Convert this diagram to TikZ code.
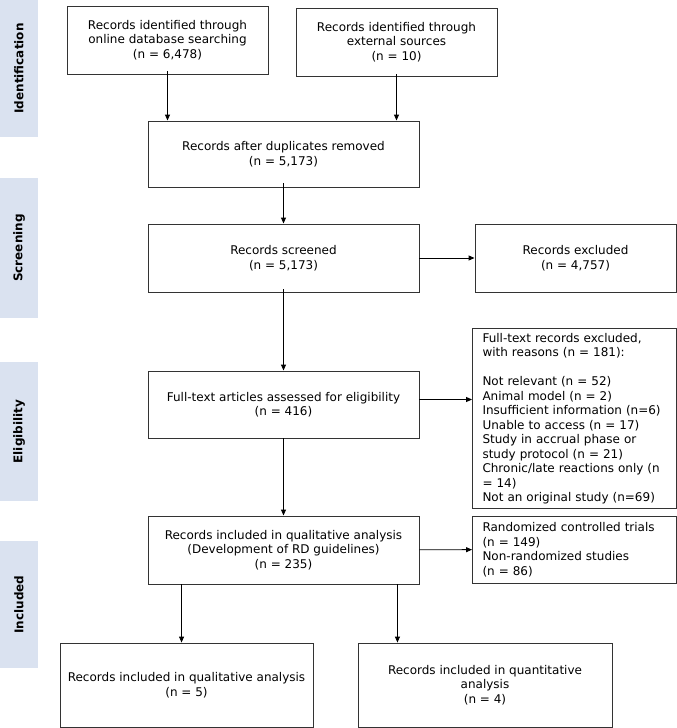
\documentclass[tikz,border=0pt]{standalone}
\usepackage{fontspec}
\setmainfont{DejaVu Sans}
\usepackage{tikz}
\usetikzlibrary{arrows.meta}
\definecolor{bandblue}{HTML}{DAE2F0}

\begin{document}
\begin{tikzpicture}[x=1pt, y=-1pt, thick, line width=0.9pt,
    >={Triangle[length=6pt,width=5pt]},
    main/.style = {draw=black!80, align=center, font=\fontsize{12}{14.5}\selectfont, inner sep=0pt},
    list/.style = {main, align=left, text width=184pt, inner xsep=10pt, inner ysep=4pt},
    band/.style = {fill=bandblue, minimum width=38pt, inner sep=0pt},
    bandtext/.style = {rotate=90, font=\fontsize{12}{14}\selectfont\bfseries}]
    \useasboundingbox (0,0) rectangle (677,728);

    % side bands
    \node[band, minimum height=137pt] (b1) at (19,68.5) {};
    \node[bandtext] at (b1) {Identification};
    \node[band, minimum height=140pt] (b2) at (19,248) {};
    \node[bandtext] at (b2) {Screening};
    \node[band, minimum height=139pt] (b3) at (19,431.5) {};
    \node[bandtext] at (b3) {Eligibility};
    \node[band, minimum height=127pt] (b4) at (19,604.5) {};
    \node[bandtext] at (b4) {Included};

    % boxes
    \node[main, minimum width=201pt, minimum height=68pt] (1) at (167.5,40) {Records identified through\\online database searching\\(n = 6,478)};
    \node[main, minimum width=201pt, minimum height=68pt] (2) at (396.5,42) {Records identified through\\external sources\\(n = 10)};
    \node[main, minimum width=271pt, minimum height=66pt] (3) at (283.5,154) {Records after duplicates removed\\(n = 5,173)};
    \node[main, minimum width=271pt, minimum height=68pt] (4) at (283.5,258) {Records screened\\(n = 5,173)};
    \node[main, minimum width=201pt, minimum height=68pt] (5) at (575.5,258) {Records excluded\\(n = 4,757)};
    \node[main, minimum width=271pt, minimum height=67pt] (6) at (283.5,404.5) {Full-text articles assessed for eligibility\\(n = 416)};
    \node[list] (7) at (574.5,418.5) {Full-text records excluded,\\with reasons (n = 181):\\[14.5pt]Not relevant (n = 52)\\Animal model (n = 2)\\Insufficient information (n=6)\\Unable to access (n = 17)\\Study in accrual phase or\\study protocol (n = 21)\\Chronic/late reactions only (n\\= 14)\\Not an original study (n=69)};
    \node[main, minimum width=271pt, minimum height=68pt] (8) at (283.5,550) {Records included in qualitative analysis\\(Development of RD guidelines)\\(n = 235)};
    \node[list, minimum height=67pt] (9) at (574.5,549.5) {Randomized controlled trials\\(n = 149)\\Non-randomized studies\\(n = 86)};
    \node[main, minimum width=253pt, minimum height=84pt] (10) at (186.5,685) {Records included in qualitative analysis\\(n = 5)};
    \node[main, minimum width=254pt, minimum height=84pt] (11) at (485,685) {Records included in quantitative\\analysis\\(n = 4)};

    % arrows
    \draw[->] ([yshift=3pt]1.south) -- (1.south |- 3.north);
    \draw[->] ([yshift=2pt]2.south) -- (2.south |- 3.north);
    \draw[->] ([yshift=4pt]3.south) -- (4);
    \draw[->] (4) -- (5);
    \draw[->] ([yshift=3pt]4.south) -- (6);
    \draw[->] ([yshift=5pt]6.east) -- ([yshift=5pt]6.east -| 7.west);
    \draw[->] (6) -- (8);
    \draw[->] (8) -- (9);
    \draw[->] ([xshift=34pt]8.south west) -- ([xshift=34pt]8.south west |- 10.north);
    \draw[->] ([xshift=-22pt]8.south east) -- ([xshift=-22pt]8.south east |- 11.north);
\end{tikzpicture}
\end{document}
